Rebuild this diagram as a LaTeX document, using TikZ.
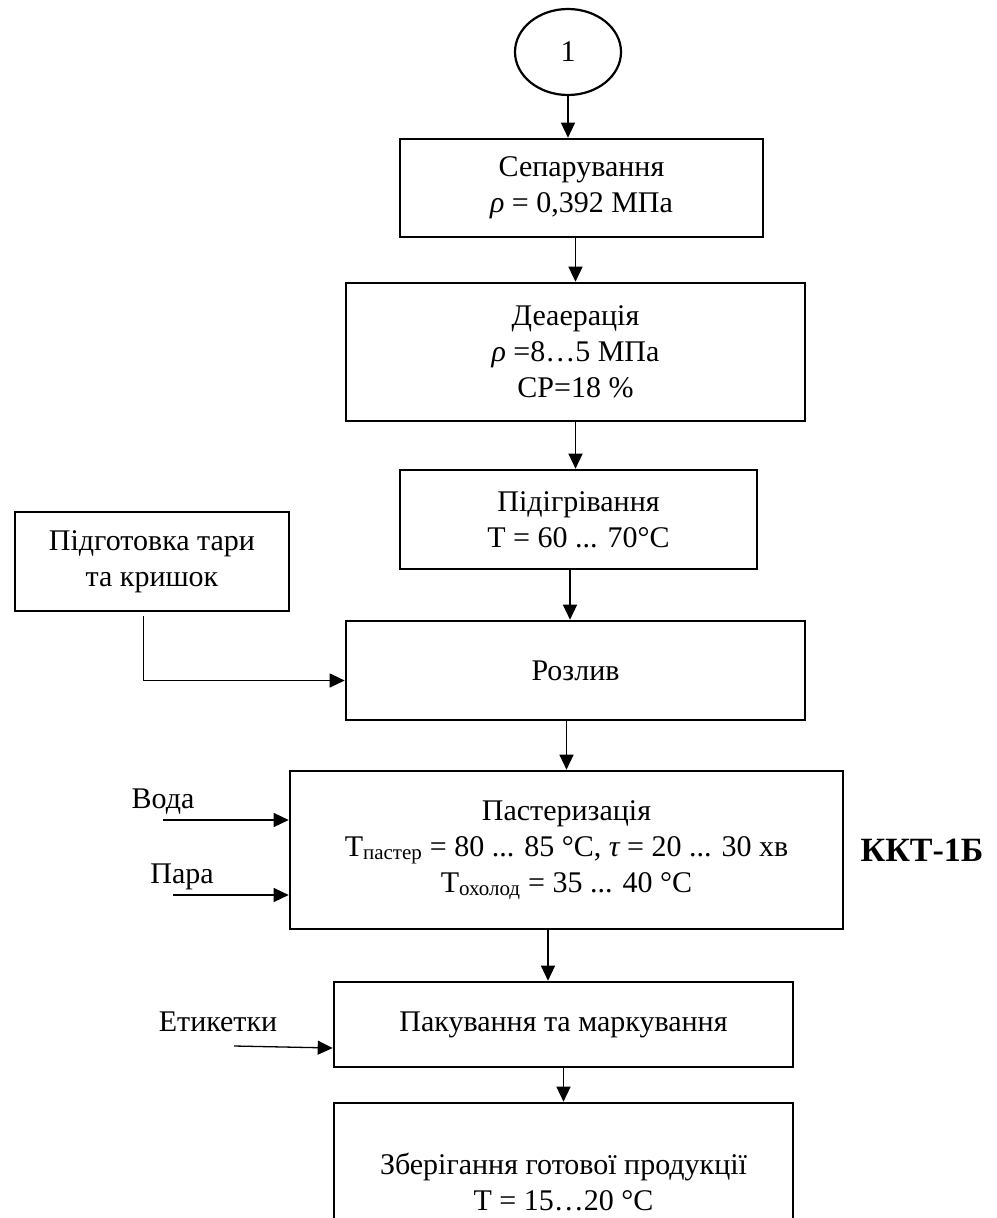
\documentclass[tikz,border=0pt]{standalone}
\usepackage{fontspec}
\setmainfont{Liberation Serif}
\usetikzlibrary{positioning,shapes.geometric,arrows.meta}

\begin{document}
\begin{tikzpicture}[x=1pt,y=-1pt,
    font=\fontsize{30}{36}\selectfont,
    block/.style={draw,line width=2.6pt,align=center,inner sep=0pt},
    flow/.style={line width=1.3pt,-{Triangle[length=15pt,width=14pt]}}]
  \useasboundingbox (0,0) rectangle (996,1218);
  \clip (0,0) rectangle (996,1218);
  % main line
  \node[block,ellipse,line width=2.2pt,minimum width=106pt,minimum height=86pt] (start) at (568,52) {1};
  \node[block,minimum width=363pt,minimum height=98pt] (sep) at (581.5,188)
       {Сепарування\\{\itshape ρ} = 0,392 МПа};
  \node[block,minimum width=459pt,minimum height=138pt] (deaer) at (575.5,352)
       {Деаерація\\{\itshape ρ} =8…5 МПа\\СР=18 \%};
  \node[block,minimum width=357pt,minimum height=99pt] (heat) at (578.5,519.5)
       {Підігрівання\\T = 60 ... 70°C};
  \node[block,minimum width=459pt,minimum height=99pt] (fill) at (575.5,670.5) {Розлив};
  \node[block,minimum width=553pt,minimum height=158pt] (past) at (566.5,850)
       {Пастеризація\\T\textsubscript{пастер} = 80 ... 85 °C, {\itshape τ} = 20 ... 30 хв\\T\textsubscript{охолод} = 35 ... 40 °C};
  \node[block,minimum width=459pt,minimum height=85pt] (pack) at (563.5,1024.5)
       {Пакування та маркування};
  \node[block,minimum width=459pt,minimum height=157pt] (store) at (563.5,1181.5)
       {Зберігання готової продукції\\T = 15…20 °C};
  % side inputs
  \node[block,minimum width=274pt,minimum height=99pt] (prep) at (152,561.5)
       {Підготовка тари\\та кришок};
  \node (voda) at (163,802) {Вода};
  \node (para) at (182,877) {Пара};
  \node (etyk) at (218,1022) {Етикетки};
  \node[font=\fontsize{34}{40}\selectfont\bfseries] (kkt) at (922,850) {ККТ-1Б};
  \coordinate (prepout) at (143,616);
  \coordinate (vodain) at (163,820);
  \coordinate (parain) at (173,895);
  \coordinate (etykin) at (234,1046);
  \coordinate (a4) at (570,0);
  \coordinate (a6) at (548,0);
  % arrows
  \draw[flow] (start) -- (start |- sep.north);
  \draw[flow] (sep.south -| deaer.north) -- (deaer.north);
  \draw[flow] (deaer.south) -- (deaer.south |- heat.north);
  \draw[flow] (heat.south -| a4) -- (fill.north -| a4);
  \draw[flow] (fill.south -| past.north) -- (past.north);
  \draw[flow] (past.south -| a6) -- (pack.north -| a6);
  \draw[flow] (pack.south) -- (store.north);
  \draw[flow,line width=1pt] (prepout) |- ([yshift=-10pt]fill.west);
  \draw[flow] (vodain) -- (vodain -| past.west);
  \draw[flow] (parain) -- (parain -| past.west);
  \draw[flow] (etykin) -- ([yshift=-23.5pt]pack.west);
\end{tikzpicture}
\end{document}
